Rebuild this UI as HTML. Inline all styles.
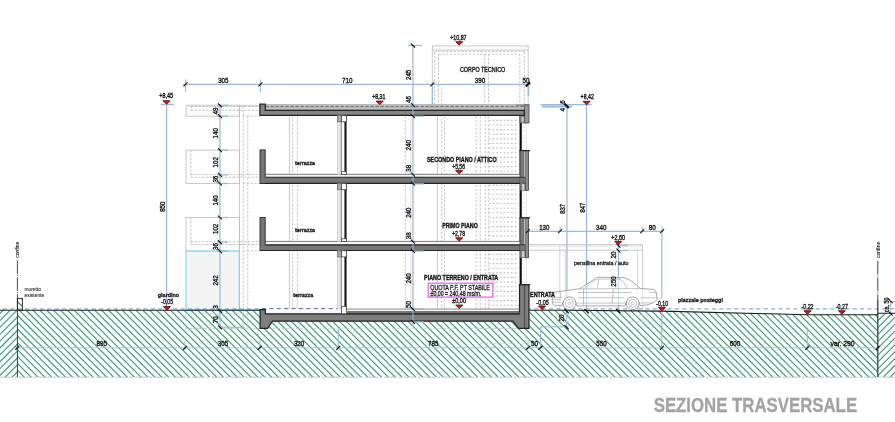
<!DOCTYPE html>
<html><head><meta charset="utf-8"><title>Sezione trasversale</title>
<style>
html,body{margin:0;padding:0;background:#fff;}
body{width:895px;height:422px;overflow:hidden;}
svg{display:block;font-family:"Liberation Sans",sans-serif;will-change:transform;opacity:0.999;}
</style></head><body>
<svg width="895" height="422" viewBox="0 0 895 422">
<defs><filter id="soft" x="0" y="0" width="895" height="422" filterUnits="userSpaceOnUse"><feGaussianBlur stdDeviation="0.38"/></filter></defs>
<rect width="895" height="422" fill="#ffffff"/>
<g filter="url(#soft)">
<clipPath id="cm"><path d="M17.4,310.15 L260,310.15 L260,328.3 L267.6,328.3 L272.5,321.2 L512.8,321.2 L518.5,328.3 L529,328.3 L529,310.15 L566,310.3 L662,311.1 L807,314.6 L877.8,314.6 L877.8,377.0 L17.4,377.0 Z M17.4,298.4 L22.4,298.4 L22.4,310.15 L17.4,310.15 Z"/></clipPath>
<clipPath id="cl"><rect x="0" y="310.15" width="17.4" height="66.85000000000002"/></clipPath>
<clipPath id="cr"><rect x="877.8" y="313.3" width="17.200000000000045" height="63.69999999999999"/></clipPath>
<g clip-path="url(#cm)" stroke="#36986a" stroke-width="1.1">
<line x1="-133.35" y1="295" x2="-48.35" y2="380"/>
<line x1="-126.48" y1="295" x2="-41.48" y2="380"/>
<line x1="-119.62" y1="295" x2="-34.62" y2="380"/>
<line x1="-112.75" y1="295" x2="-27.75" y2="380"/>
<line x1="-105.88" y1="295" x2="-20.88" y2="380"/>
<line x1="-99.01" y1="295" x2="-14.01" y2="380"/>
<line x1="-92.14" y1="295" x2="-7.14" y2="380"/>
<line x1="-85.28" y1="295" x2="-0.28" y2="380"/>
<line x1="-78.41" y1="295" x2="6.59" y2="380"/>
<line x1="-71.54" y1="295" x2="13.46" y2="380"/>
<line x1="-64.67" y1="295" x2="20.33" y2="380"/>
<line x1="-57.81" y1="295" x2="27.19" y2="380"/>
<line x1="-50.94" y1="295" x2="34.06" y2="380"/>
<line x1="-44.07" y1="295" x2="40.93" y2="380"/>
<line x1="-37.20" y1="295" x2="47.80" y2="380"/>
<line x1="-30.34" y1="295" x2="54.66" y2="380"/>
<line x1="-23.47" y1="295" x2="61.53" y2="380"/>
<line x1="-16.60" y1="295" x2="68.40" y2="380"/>
<line x1="-9.73" y1="295" x2="75.27" y2="380"/>
<line x1="-2.87" y1="295" x2="82.13" y2="380"/>
<line x1="4.00" y1="295" x2="89.00" y2="380"/>
<line x1="10.87" y1="295" x2="95.87" y2="380"/>
<line x1="17.74" y1="295" x2="102.74" y2="380"/>
<line x1="24.60" y1="295" x2="109.60" y2="380"/>
<line x1="31.47" y1="295" x2="116.47" y2="380"/>
<line x1="38.34" y1="295" x2="123.34" y2="380"/>
<line x1="45.21" y1="295" x2="130.21" y2="380"/>
<line x1="52.07" y1="295" x2="137.07" y2="380"/>
<line x1="58.94" y1="295" x2="143.94" y2="380"/>
<line x1="65.81" y1="295" x2="150.81" y2="380"/>
<line x1="72.68" y1="295" x2="157.68" y2="380"/>
<line x1="79.54" y1="295" x2="164.54" y2="380"/>
<line x1="86.41" y1="295" x2="171.41" y2="380"/>
<line x1="93.28" y1="295" x2="178.28" y2="380"/>
<line x1="100.15" y1="295" x2="185.15" y2="380"/>
<line x1="107.01" y1="295" x2="192.01" y2="380"/>
<line x1="113.88" y1="295" x2="198.88" y2="380"/>
<line x1="120.75" y1="295" x2="205.75" y2="380"/>
<line x1="127.62" y1="295" x2="212.62" y2="380"/>
<line x1="134.48" y1="295" x2="219.48" y2="380"/>
<line x1="141.35" y1="295" x2="226.35" y2="380"/>
<line x1="148.22" y1="295" x2="233.22" y2="380"/>
<line x1="155.09" y1="295" x2="240.09" y2="380"/>
<line x1="161.95" y1="295" x2="246.95" y2="380"/>
<line x1="168.82" y1="295" x2="253.82" y2="380"/>
<line x1="175.69" y1="295" x2="260.69" y2="380"/>
<line x1="182.56" y1="295" x2="267.56" y2="380"/>
<line x1="189.42" y1="295" x2="274.42" y2="380"/>
<line x1="196.29" y1="295" x2="281.29" y2="380"/>
<line x1="203.16" y1="295" x2="288.16" y2="380"/>
<line x1="210.03" y1="295" x2="295.03" y2="380"/>
<line x1="216.89" y1="295" x2="301.89" y2="380"/>
<line x1="223.76" y1="295" x2="308.76" y2="380"/>
<line x1="230.63" y1="295" x2="315.63" y2="380"/>
<line x1="237.50" y1="295" x2="322.50" y2="380"/>
<line x1="244.36" y1="295" x2="329.36" y2="380"/>
<line x1="251.23" y1="295" x2="336.23" y2="380"/>
<line x1="258.10" y1="295" x2="343.10" y2="380"/>
<line x1="264.97" y1="295" x2="349.97" y2="380"/>
<line x1="271.83" y1="295" x2="356.83" y2="380"/>
<line x1="278.70" y1="295" x2="363.70" y2="380"/>
<line x1="285.57" y1="295" x2="370.57" y2="380"/>
<line x1="292.44" y1="295" x2="377.44" y2="380"/>
<line x1="299.30" y1="295" x2="384.30" y2="380"/>
<line x1="306.17" y1="295" x2="391.17" y2="380"/>
<line x1="313.04" y1="295" x2="398.04" y2="380"/>
<line x1="319.91" y1="295" x2="404.91" y2="380"/>
<line x1="326.77" y1="295" x2="411.77" y2="380"/>
<line x1="333.64" y1="295" x2="418.64" y2="380"/>
<line x1="340.51" y1="295" x2="425.51" y2="380"/>
<line x1="347.38" y1="295" x2="432.38" y2="380"/>
<line x1="354.24" y1="295" x2="439.24" y2="380"/>
<line x1="361.11" y1="295" x2="446.11" y2="380"/>
<line x1="367.98" y1="295" x2="452.98" y2="380"/>
<line x1="374.85" y1="295" x2="459.85" y2="380"/>
<line x1="381.71" y1="295" x2="466.71" y2="380"/>
<line x1="388.58" y1="295" x2="473.58" y2="380"/>
<line x1="395.45" y1="295" x2="480.45" y2="380"/>
<line x1="402.32" y1="295" x2="487.32" y2="380"/>
<line x1="409.18" y1="295" x2="494.18" y2="380"/>
<line x1="416.05" y1="295" x2="501.05" y2="380"/>
<line x1="422.92" y1="295" x2="507.92" y2="380"/>
<line x1="429.79" y1="295" x2="514.79" y2="380"/>
<line x1="436.65" y1="295" x2="521.65" y2="380"/>
<line x1="443.52" y1="295" x2="528.52" y2="380"/>
<line x1="450.39" y1="295" x2="535.39" y2="380"/>
<line x1="457.26" y1="295" x2="542.26" y2="380"/>
<line x1="464.12" y1="295" x2="549.12" y2="380"/>
<line x1="470.99" y1="295" x2="555.99" y2="380"/>
<line x1="477.86" y1="295" x2="562.86" y2="380"/>
<line x1="484.73" y1="295" x2="569.73" y2="380"/>
<line x1="491.59" y1="295" x2="576.59" y2="380"/>
<line x1="498.46" y1="295" x2="583.46" y2="380"/>
<line x1="505.33" y1="295" x2="590.33" y2="380"/>
<line x1="512.20" y1="295" x2="597.20" y2="380"/>
<line x1="519.06" y1="295" x2="604.06" y2="380"/>
<line x1="525.93" y1="295" x2="610.93" y2="380"/>
<line x1="532.80" y1="295" x2="617.80" y2="380"/>
<line x1="539.67" y1="295" x2="624.67" y2="380"/>
<line x1="546.53" y1="295" x2="631.53" y2="380"/>
<line x1="553.40" y1="295" x2="638.40" y2="380"/>
<line x1="560.27" y1="295" x2="645.27" y2="380"/>
<line x1="567.14" y1="295" x2="652.14" y2="380"/>
<line x1="574.00" y1="295" x2="659.00" y2="380"/>
<line x1="580.87" y1="295" x2="665.87" y2="380"/>
<line x1="587.74" y1="295" x2="672.74" y2="380"/>
<line x1="594.61" y1="295" x2="679.61" y2="380"/>
<line x1="601.47" y1="295" x2="686.47" y2="380"/>
<line x1="608.34" y1="295" x2="693.34" y2="380"/>
<line x1="615.21" y1="295" x2="700.21" y2="380"/>
<line x1="622.08" y1="295" x2="707.08" y2="380"/>
<line x1="628.94" y1="295" x2="713.94" y2="380"/>
<line x1="635.81" y1="295" x2="720.81" y2="380"/>
<line x1="642.68" y1="295" x2="727.68" y2="380"/>
<line x1="649.55" y1="295" x2="734.55" y2="380"/>
<line x1="656.41" y1="295" x2="741.41" y2="380"/>
<line x1="663.28" y1="295" x2="748.28" y2="380"/>
<line x1="670.15" y1="295" x2="755.15" y2="380"/>
<line x1="677.02" y1="295" x2="762.02" y2="380"/>
<line x1="683.88" y1="295" x2="768.88" y2="380"/>
<line x1="690.75" y1="295" x2="775.75" y2="380"/>
<line x1="697.62" y1="295" x2="782.62" y2="380"/>
<line x1="704.49" y1="295" x2="789.49" y2="380"/>
<line x1="711.35" y1="295" x2="796.35" y2="380"/>
<line x1="718.22" y1="295" x2="803.22" y2="380"/>
<line x1="725.09" y1="295" x2="810.09" y2="380"/>
<line x1="731.96" y1="295" x2="816.96" y2="380"/>
<line x1="738.82" y1="295" x2="823.82" y2="380"/>
<line x1="745.69" y1="295" x2="830.69" y2="380"/>
<line x1="752.56" y1="295" x2="837.56" y2="380"/>
<line x1="759.43" y1="295" x2="844.43" y2="380"/>
<line x1="766.29" y1="295" x2="851.29" y2="380"/>
<line x1="773.16" y1="295" x2="858.16" y2="380"/>
<line x1="780.03" y1="295" x2="865.03" y2="380"/>
<line x1="786.90" y1="295" x2="871.90" y2="380"/>
<line x1="793.76" y1="295" x2="878.76" y2="380"/>
<line x1="800.63" y1="295" x2="885.63" y2="380"/>
<line x1="807.50" y1="295" x2="892.50" y2="380"/>
<line x1="814.37" y1="295" x2="899.37" y2="380"/>
<line x1="821.23" y1="295" x2="906.23" y2="380"/>
<line x1="828.10" y1="295" x2="913.10" y2="380"/>
<line x1="834.97" y1="295" x2="919.97" y2="380"/>
<line x1="841.84" y1="295" x2="926.84" y2="380"/>
<line x1="848.70" y1="295" x2="933.70" y2="380"/>
<line x1="855.57" y1="295" x2="940.57" y2="380"/>
<line x1="862.44" y1="295" x2="947.44" y2="380"/>
<line x1="869.31" y1="295" x2="954.31" y2="380"/>
<line x1="876.17" y1="295" x2="961.17" y2="380"/>
<line x1="883.04" y1="295" x2="968.04" y2="380"/>
<line x1="889.91" y1="295" x2="974.91" y2="380"/>
<line x1="896.78" y1="295" x2="981.78" y2="380"/>
<line x1="903.64" y1="295" x2="988.64" y2="380"/>
<line x1="910.51" y1="295" x2="995.51" y2="380"/>
<line x1="917.38" y1="295" x2="1002.38" y2="380"/>
<line x1="924.24" y1="295" x2="1009.24" y2="380"/>
<line x1="931.11" y1="295" x2="1016.11" y2="380"/>
<line x1="937.98" y1="295" x2="1022.98" y2="380"/>
<line x1="944.85" y1="295" x2="1029.85" y2="380"/>
<line x1="951.71" y1="295" x2="1036.71" y2="380"/>
<line x1="958.58" y1="295" x2="1043.58" y2="380"/>
<line x1="965.45" y1="295" x2="1050.45" y2="380"/>
<line x1="972.32" y1="295" x2="1057.32" y2="380"/>
<line x1="979.18" y1="295" x2="1064.18" y2="380"/>
<line x1="986.05" y1="295" x2="1071.05" y2="380"/>
<line x1="992.92" y1="295" x2="1077.92" y2="380"/>
<line x1="999.79" y1="295" x2="1084.79" y2="380"/>
<line x1="1006.65" y1="295" x2="1091.65" y2="380"/>
<line x1="1013.52" y1="295" x2="1098.52" y2="380"/>
<line x1="1020.39" y1="295" x2="1105.39" y2="380"/>
<line x1="1027.26" y1="295" x2="1112.26" y2="380"/>
<line x1="1034.12" y1="295" x2="1119.12" y2="380"/>
<line x1="1040.99" y1="295" x2="1125.99" y2="380"/>
<line x1="1047.86" y1="295" x2="1132.86" y2="380"/>
<line x1="1054.73" y1="295" x2="1139.73" y2="380"/>
<line x1="1061.59" y1="295" x2="1146.59" y2="380"/>
<line x1="1068.46" y1="295" x2="1153.46" y2="380"/>
<line x1="1075.33" y1="295" x2="1160.33" y2="380"/>
<line x1="1082.20" y1="295" x2="1167.20" y2="380"/>
<line x1="1089.06" y1="295" x2="1174.06" y2="380"/>
<line x1="1095.93" y1="295" x2="1180.93" y2="380"/>
<line x1="1102.80" y1="295" x2="1187.80" y2="380"/>
<line x1="1109.67" y1="295" x2="1194.67" y2="380"/>
<line x1="1116.53" y1="295" x2="1201.53" y2="380"/>
<line x1="1123.40" y1="295" x2="1208.40" y2="380"/>
<line x1="1130.27" y1="295" x2="1215.27" y2="380"/>
<line x1="1137.14" y1="295" x2="1222.14" y2="380"/>
<line x1="1144.00" y1="295" x2="1229.00" y2="380"/>
<line x1="1150.87" y1="295" x2="1235.87" y2="380"/>
<line x1="1157.74" y1="295" x2="1242.74" y2="380"/>
<line x1="1164.61" y1="295" x2="1249.61" y2="380"/>
<line x1="1171.47" y1="295" x2="1256.47" y2="380"/>
<line x1="1178.34" y1="295" x2="1263.34" y2="380"/>
<line x1="1185.21" y1="295" x2="1270.21" y2="380"/>
<line x1="1192.08" y1="295" x2="1277.08" y2="380"/>
</g>
<g clip-path="url(#cl)" stroke="#36986a" stroke-width="1.1">
<line x1="-20.78" y1="300" x2="-100.78" y2="380"/>
<line x1="-13.91" y1="300" x2="-93.91" y2="380"/>
<line x1="-7.04" y1="300" x2="-87.04" y2="380"/>
<line x1="-0.17" y1="300" x2="-80.17" y2="380"/>
<line x1="6.69" y1="300" x2="-73.31" y2="380"/>
<line x1="13.56" y1="300" x2="-66.44" y2="380"/>
<line x1="20.43" y1="300" x2="-59.57" y2="380"/>
<line x1="27.30" y1="300" x2="-52.70" y2="380"/>
<line x1="34.17" y1="300" x2="-45.83" y2="380"/>
<line x1="41.03" y1="300" x2="-38.97" y2="380"/>
<line x1="47.90" y1="300" x2="-32.10" y2="380"/>
<line x1="54.77" y1="300" x2="-25.23" y2="380"/>
<line x1="61.64" y1="300" x2="-18.36" y2="380"/>
<line x1="68.50" y1="300" x2="-11.50" y2="380"/>
<line x1="75.37" y1="300" x2="-4.63" y2="380"/>
<line x1="82.24" y1="300" x2="2.24" y2="380"/>
<line x1="89.11" y1="300" x2="9.11" y2="380"/>
<line x1="95.97" y1="300" x2="15.97" y2="380"/>
<line x1="102.84" y1="300" x2="22.84" y2="380"/>
<line x1="109.71" y1="300" x2="29.71" y2="380"/>
<line x1="116.58" y1="300" x2="36.58" y2="380"/>
</g>
<g clip-path="url(#cr)" stroke="#36986a" stroke-width="1.1">
<line x1="871.12" y1="300" x2="791.12" y2="380"/>
<line x1="877.99" y1="300" x2="797.99" y2="380"/>
<line x1="884.86" y1="300" x2="804.86" y2="380"/>
<line x1="891.73" y1="300" x2="811.73" y2="380"/>
<line x1="898.60" y1="300" x2="818.60" y2="380"/>
<line x1="905.46" y1="300" x2="825.46" y2="380"/>
<line x1="912.33" y1="300" x2="832.33" y2="380"/>
<line x1="919.20" y1="300" x2="839.20" y2="380"/>
<line x1="926.07" y1="300" x2="846.07" y2="380"/>
<line x1="932.93" y1="300" x2="852.93" y2="380"/>
<line x1="939.80" y1="300" x2="859.80" y2="380"/>
<line x1="946.67" y1="300" x2="866.67" y2="380"/>
<line x1="953.54" y1="300" x2="873.54" y2="380"/>
<line x1="960.40" y1="300" x2="880.40" y2="380"/>
<line x1="967.27" y1="300" x2="887.27" y2="380"/>
<line x1="974.14" y1="300" x2="894.14" y2="380"/>
</g>
<line x1="0" y1="377.2" x2="895" y2="377.2" stroke="#b9b9b9" stroke-width="0.9" stroke-dasharray="13 1.6 3 1.6" />
<rect x="186" y="105.3" width="53.40" height="10.90" fill="#fafafa" stroke="#bcbcbc" stroke-width="0.8"/>
<line x1="186" y1="105.6" x2="260" y2="105.6" stroke="#d5d5d5" stroke-width="1.6" />
<rect x="186" y="150.1" width="53.40" height="33.30" fill="none" stroke="#bcbcbc" stroke-width="0.8"/>
<rect x="186" y="217.5" width="53.40" height="33.60" fill="none" stroke="#bcbcbc" stroke-width="0.8"/>
<line x1="190.8" y1="150.1" x2="190.8" y2="177.2" stroke="#bcbcbc" stroke-width="0.85" stroke-dasharray="2.3 1.5" />
<line x1="190.8" y1="174.6" x2="260" y2="174.6" stroke="#bcbcbc" stroke-width="0.85" stroke-dasharray="2.3 1.5" />
<line x1="190.8" y1="177.2" x2="260" y2="177.2" stroke="#bcbcbc" stroke-width="0.85" stroke-dasharray="2.3 1.5" />
<line x1="243" y1="183.6" x2="260" y2="183.6" stroke="#bcbcbc" stroke-width="0.85" stroke-dasharray="2.3 1.5" />
<line x1="190.8" y1="217.5" x2="190.8" y2="244.5" stroke="#bcbcbc" stroke-width="0.85" stroke-dasharray="2.3 1.5" />
<line x1="190.8" y1="241.7" x2="260" y2="241.7" stroke="#bcbcbc" stroke-width="0.85" stroke-dasharray="2.3 1.5" />
<line x1="190.8" y1="244.5" x2="260" y2="244.5" stroke="#bcbcbc" stroke-width="0.85" stroke-dasharray="2.3 1.5" />
<line x1="243" y1="250.9" x2="260" y2="250.9" stroke="#bcbcbc" stroke-width="0.85" stroke-dasharray="2.3 1.5" />
<line x1="191" y1="106.5" x2="260" y2="106.5" stroke="#bcbcbc" stroke-width="0.85" stroke-dasharray="2.3 1.5" />
<line x1="191" y1="110.3" x2="260" y2="110.3" stroke="#bcbcbc" stroke-width="0.85" stroke-dasharray="2.3 1.5" />
<line x1="243" y1="116.1" x2="260" y2="116.1" stroke="#bcbcbc" stroke-width="0.85" stroke-dasharray="2.3 1.5" />
<line x1="191" y1="106" x2="191" y2="110.6" stroke="#bcbcbc" stroke-width="0.85" stroke-dasharray="2.3 1.5" />
<line x1="239.4" y1="105" x2="239.4" y2="310" stroke="#bcbcbc" stroke-width="0.8" />
<line x1="243.2" y1="106" x2="243.2" y2="328" stroke="#bcbcbc" stroke-width="0.85" stroke-dasharray="2.3 1.5" />
<line x1="247.8" y1="116" x2="247.8" y2="328" stroke="#bcbcbc" stroke-width="0.85" stroke-dasharray="2.3 1.5" />
<line x1="289.4" y1="116.5" x2="289.4" y2="309" stroke="#bcbcbc" stroke-width="0.8" />
<line x1="292.6" y1="116.5" x2="292.6" y2="309" stroke="#bcbcbc" stroke-width="0.85" stroke-dasharray="2.3 1.5" />
<line x1="297.6" y1="116.5" x2="297.6" y2="309" stroke="#bcbcbc" stroke-width="0.85" stroke-dasharray="2.3 1.5" />
<line x1="405.3" y1="116.5" x2="405.3" y2="309" stroke="#bcbcbc" stroke-width="0.85" stroke-dasharray="2.3 1.5" />
<line x1="410.8" y1="116.5" x2="410.8" y2="309" stroke="#dcdcdc" stroke-width="0.8" />
<line x1="437.4" y1="116.5" x2="437.4" y2="309" stroke="#bcbcbc" stroke-width="0.8" />
<line x1="441.8" y1="84" x2="441.8" y2="309" stroke="#bcbcbc" stroke-width="0.85" stroke-dasharray="2.3 1.5" />
<line x1="444.6" y1="116.5" x2="444.6" y2="309" stroke="#bcbcbc" stroke-width="0.85" stroke-dasharray="2.3 1.5" />
<line x1="476.2" y1="116.5" x2="476.2" y2="309" stroke="#bcbcbc" stroke-width="0.85" stroke-dasharray="2.3 1.5" />
<line x1="480.3" y1="116.5" x2="480.3" y2="309" stroke="#bcbcbc" stroke-width="0.85" stroke-dasharray="2.3 1.5" />
<rect x="432.3" y="45.9" width="95.90" height="4.20" fill="#fbfbfb" stroke="#bcbcbc" stroke-width="0.8"/>
<line x1="432.3" y1="50" x2="432.3" y2="105" stroke="#bcbcbc" stroke-width="0.8" />
<line x1="528.2" y1="50" x2="528.2" y2="105" stroke="#bcbcbc" stroke-width="0.8" />
<line x1="434.7" y1="51.6" x2="524.4" y2="51.6" stroke="#bcbcbc" stroke-width="0.85" stroke-dasharray="2.3 1.5" />
<line x1="438.5" y1="54.3" x2="519.8" y2="54.3" stroke="#bcbcbc" stroke-width="0.85" stroke-dasharray="2.3 1.5" />
<line x1="434.7" y1="52" x2="434.7" y2="105" stroke="#bcbcbc" stroke-width="0.85" stroke-dasharray="2.3 1.5" />
<line x1="438.5" y1="54.3" x2="438.5" y2="105" stroke="#bcbcbc" stroke-width="0.85" stroke-dasharray="2.3 1.5" />
<line x1="484.6" y1="54.3" x2="484.6" y2="105" stroke="#bcbcbc" stroke-width="0.85" stroke-dasharray="2.3 1.5" />
<line x1="488.5" y1="54.3" x2="488.5" y2="105" stroke="#bcbcbc" stroke-width="0.85" stroke-dasharray="2.3 1.5" />
<line x1="519.8" y1="54.3" x2="519.8" y2="105" stroke="#bcbcbc" stroke-width="0.85" stroke-dasharray="2.3 1.5" />
<line x1="524.4" y1="52" x2="524.4" y2="105" stroke="#bcbcbc" stroke-width="0.85" stroke-dasharray="2.3 1.5" />
<line x1="488.8" y1="120.4" x2="518.5" y2="120.4" stroke="#c2c2c2" stroke-width="1.1" stroke-dasharray="1.8 1.9" />
<line x1="488.8" y1="125.02000000000001" x2="518.5" y2="125.02000000000001" stroke="#c2c2c2" stroke-width="1.1" stroke-dasharray="1.8 1.9" />
<line x1="488.8" y1="129.64000000000001" x2="518.5" y2="129.64000000000001" stroke="#c2c2c2" stroke-width="1.1" stroke-dasharray="1.8 1.9" />
<line x1="488.8" y1="134.26000000000002" x2="518.5" y2="134.26000000000002" stroke="#c2c2c2" stroke-width="1.1" stroke-dasharray="1.8 1.9" />
<line x1="488.8" y1="138.88000000000002" x2="518.5" y2="138.88000000000002" stroke="#c2c2c2" stroke-width="1.1" stroke-dasharray="1.8 1.9" />
<line x1="488.8" y1="143.50000000000003" x2="518.5" y2="143.50000000000003" stroke="#c2c2c2" stroke-width="1.1" stroke-dasharray="1.8 1.9" />
<line x1="488.8" y1="148.12000000000003" x2="518.5" y2="148.12000000000003" stroke="#c2c2c2" stroke-width="1.1" stroke-dasharray="1.8 1.9" />
<line x1="488.8" y1="152.74000000000004" x2="518.5" y2="152.74000000000004" stroke="#c2c2c2" stroke-width="1.1" stroke-dasharray="1.8 1.9" />
<line x1="488.8" y1="157.36000000000004" x2="518.5" y2="157.36000000000004" stroke="#c2c2c2" stroke-width="1.1" stroke-dasharray="1.8 1.9" />
<line x1="488.8" y1="161.98000000000005" x2="518.5" y2="161.98000000000005" stroke="#c2c2c2" stroke-width="1.1" stroke-dasharray="1.8 1.9" />
<line x1="488.8" y1="166.60000000000005" x2="518.5" y2="166.60000000000005" stroke="#c2c2c2" stroke-width="1.1" stroke-dasharray="1.8 1.9" />
<line x1="488.8" y1="171.22000000000006" x2="518.5" y2="171.22000000000006" stroke="#c2c2c2" stroke-width="1.1" stroke-dasharray="1.8 1.9" />
<line x1="488.8" y1="185.08000000000007" x2="518.5" y2="185.08000000000007" stroke="#c2c2c2" stroke-width="1.1" stroke-dasharray="1.8 1.9" />
<line x1="488.8" y1="189.70000000000007" x2="518.5" y2="189.70000000000007" stroke="#c2c2c2" stroke-width="1.1" stroke-dasharray="1.8 1.9" />
<line x1="488.8" y1="194.32000000000008" x2="518.5" y2="194.32000000000008" stroke="#c2c2c2" stroke-width="1.1" stroke-dasharray="1.8 1.9" />
<line x1="488.8" y1="198.94000000000008" x2="518.5" y2="198.94000000000008" stroke="#c2c2c2" stroke-width="1.1" stroke-dasharray="1.8 1.9" />
<line x1="488.8" y1="203.5600000000001" x2="518.5" y2="203.5600000000001" stroke="#c2c2c2" stroke-width="1.1" stroke-dasharray="1.8 1.9" />
<line x1="488.8" y1="208.1800000000001" x2="518.5" y2="208.1800000000001" stroke="#c2c2c2" stroke-width="1.1" stroke-dasharray="1.8 1.9" />
<line x1="488.8" y1="212.8000000000001" x2="518.5" y2="212.8000000000001" stroke="#c2c2c2" stroke-width="1.1" stroke-dasharray="1.8 1.9" />
<line x1="488.8" y1="217.4200000000001" x2="518.5" y2="217.4200000000001" stroke="#c2c2c2" stroke-width="1.1" stroke-dasharray="1.8 1.9" />
<line x1="488.8" y1="222.0400000000001" x2="518.5" y2="222.0400000000001" stroke="#c2c2c2" stroke-width="1.1" stroke-dasharray="1.8 1.9" />
<line x1="488.8" y1="226.6600000000001" x2="518.5" y2="226.6600000000001" stroke="#c2c2c2" stroke-width="1.1" stroke-dasharray="1.8 1.9" />
<line x1="488.8" y1="231.28000000000011" x2="518.5" y2="231.28000000000011" stroke="#c2c2c2" stroke-width="1.1" stroke-dasharray="1.8 1.9" />
<line x1="488.8" y1="235.90000000000012" x2="518.5" y2="235.90000000000012" stroke="#c2c2c2" stroke-width="1.1" stroke-dasharray="1.8 1.9" />
<line x1="488.8" y1="254.38000000000014" x2="518.5" y2="254.38000000000014" stroke="#c2c2c2" stroke-width="1.1" stroke-dasharray="1.8 1.9" />
<line x1="488.8" y1="259.0000000000001" x2="518.5" y2="259.0000000000001" stroke="#c2c2c2" stroke-width="1.1" stroke-dasharray="1.8 1.9" />
<line x1="488.8" y1="263.6200000000001" x2="518.5" y2="263.6200000000001" stroke="#c2c2c2" stroke-width="1.1" stroke-dasharray="1.8 1.9" />
<line x1="488.8" y1="268.2400000000001" x2="518.5" y2="268.2400000000001" stroke="#c2c2c2" stroke-width="1.1" stroke-dasharray="1.8 1.9" />
<line x1="488.8" y1="272.8600000000001" x2="518.5" y2="272.8600000000001" stroke="#c2c2c2" stroke-width="1.1" stroke-dasharray="1.8 1.9" />
<line x1="488.8" y1="277.48000000000013" x2="518.5" y2="277.48000000000013" stroke="#c2c2c2" stroke-width="1.1" stroke-dasharray="1.8 1.9" />
<line x1="488.8" y1="282.10000000000014" x2="518.5" y2="282.10000000000014" stroke="#c2c2c2" stroke-width="1.1" stroke-dasharray="1.8 1.9" />
<line x1="488.8" y1="286.72000000000014" x2="518.5" y2="286.72000000000014" stroke="#c2c2c2" stroke-width="1.1" stroke-dasharray="1.8 1.9" />
<line x1="488.8" y1="291.34000000000015" x2="518.5" y2="291.34000000000015" stroke="#c2c2c2" stroke-width="1.1" stroke-dasharray="1.8 1.9" />
<line x1="488.8" y1="295.96000000000015" x2="518.5" y2="295.96000000000015" stroke="#c2c2c2" stroke-width="1.1" stroke-dasharray="1.8 1.9" />
<line x1="488.8" y1="300.58000000000015" x2="518.5" y2="300.58000000000015" stroke="#c2c2c2" stroke-width="1.1" stroke-dasharray="1.8 1.9" />
<line x1="488.8" y1="305.20000000000016" x2="518.5" y2="305.20000000000016" stroke="#c2c2c2" stroke-width="1.1" stroke-dasharray="1.8 1.9" />
<line x1="488.3" y1="116.5" x2="488.3" y2="309" stroke="#bcbcbc" stroke-width="0.85" stroke-dasharray="2.3 1.5" />
<line x1="485.2" y1="116.5" x2="485.2" y2="309" stroke="#bcbcbc" stroke-width="0.85" stroke-dasharray="2.3 1.5" />
<line x1="523.5" y1="122" x2="523.5" y2="310" stroke="#d8d8d8" stroke-width="0.7" stroke-dasharray="2.3 1.5" />
<line x1="526.3" y1="122" x2="526.3" y2="310" stroke="#d8d8d8" stroke-width="0.7" />
<rect x="186" y="251.1" width="53.20" height="58.70" fill="#f4f4f4" stroke="#5fd3e3" stroke-width="0.9"/>
<line x1="186" y1="309.8" x2="262" y2="309.8" stroke="#5fd3e3" stroke-width="0.9" />
<rect x="529" y="244.2" width="113.60" height="3.00" fill="#ececec" stroke="none" stroke-width="1"/>
<line x1="529" y1="244.6" x2="642.6" y2="244.6" stroke="#c8c8c8" stroke-width="0.9" />
<line x1="529" y1="250.2" x2="642.6" y2="250.2" stroke="#c6c6c6" stroke-width="0.9" />
<line x1="642.6" y1="244.6" x2="642.6" y2="310.5" stroke="#c6c6c6" stroke-width="0.9" />
<line x1="637.7" y1="250.2" x2="637.7" y2="310.5" stroke="#cccccc" stroke-width="0.8" />
<line x1="559.8" y1="246.5" x2="559.8" y2="310" stroke="#cccccc" stroke-width="0.8" />
<line x1="565.2" y1="250.2" x2="565.2" y2="310" stroke="#cccccc" stroke-width="0.8" />
<line x1="185" y1="328.3" x2="260" y2="328.3" stroke="#c0c0c0" stroke-width="0.8" stroke-dasharray="3 1.6" />
<rect x="185.8" y="313.6" width="57.20" height="14.70" fill="none" stroke="#c4c4c4" stroke-width="0.8" stroke-dasharray="2.4 1.6"/>
<rect x="476.8" y="328.5" width="48.60" height="15.10" fill="none" stroke="#c9c9c9" stroke-width="0.7" stroke-dasharray="3 1.6"/>
<rect x="556.6" y="314.7" width="12.40" height="7.50" fill="none" stroke="#c9c9c9" stroke-width="0.7" stroke-dasharray="2 1.3"/>
<rect x="632" y="315.6" width="15.80" height="5.80" fill="none" stroke="#c9c9c9" stroke-width="0.7" stroke-dasharray="2 1.3"/>
<line x1="268" y1="328.4" x2="519" y2="328.4" stroke="#c6c6c6" stroke-width="0.7" stroke-dasharray="3 1.6" />
<line x1="183" y1="84.4" x2="531" y2="84.4" stroke="#97bae0" stroke-width="1.25" />
<line x1="185.5" y1="79.5" x2="185.5" y2="92" stroke="#97bae0" stroke-width="1.125" />
<line x1="260.4" y1="79.5" x2="260.4" y2="92" stroke="#97bae0" stroke-width="1.125" />
<line x1="432.3" y1="84.4" x2="432.3" y2="105" stroke="#97bae0" stroke-width="1.125" />
<line x1="528.4" y1="84" x2="528.4" y2="96" stroke="#97bae0" stroke-width="1.625" />
<line x1="412.95" y1="45.4" x2="412.95" y2="327" stroke="#97bae0" stroke-width="1.25" />
<line x1="408" y1="45.4" x2="422" y2="45.4" stroke="#97bae0" stroke-width="1.125" />
<line x1="412.95" y1="105.1" x2="424" y2="105.1" stroke="#97bae0" stroke-width="1.25" />
<line x1="412.95" y1="116.1" x2="424" y2="116.1" stroke="#97bae0" stroke-width="1.25" />
<line x1="412.95" y1="174.6" x2="424" y2="174.6" stroke="#97bae0" stroke-width="1.25" />
<line x1="412.95" y1="183.7" x2="424" y2="183.7" stroke="#97bae0" stroke-width="1.25" />
<line x1="412.95" y1="241.7" x2="424" y2="241.7" stroke="#97bae0" stroke-width="1.25" />
<line x1="412.95" y1="250.9" x2="424" y2="250.9" stroke="#97bae0" stroke-width="1.25" />
<line x1="412.95" y1="309.2" x2="424" y2="309.2" stroke="#97bae0" stroke-width="1.25" />
<line x1="412.95" y1="321.8" x2="424" y2="321.8" stroke="#97bae0" stroke-width="1.25" />
<line x1="219.95" y1="105" x2="219.95" y2="327.3" stroke="#97bae0" stroke-width="1.25" />
<line x1="217" y1="105.3" x2="228" y2="105.3" stroke="#97bae0" stroke-width="1.25" />
<line x1="217" y1="116.2" x2="228" y2="116.2" stroke="#97bae0" stroke-width="1.25" />
<line x1="217" y1="150.1" x2="228" y2="150.1" stroke="#97bae0" stroke-width="1.25" />
<line x1="217" y1="174.9" x2="228" y2="174.9" stroke="#97bae0" stroke-width="1.25" />
<line x1="217" y1="183.5" x2="228" y2="183.5" stroke="#97bae0" stroke-width="1.25" />
<line x1="217" y1="217.5" x2="228" y2="217.5" stroke="#97bae0" stroke-width="1.25" />
<line x1="217" y1="242.2" x2="228" y2="242.2" stroke="#97bae0" stroke-width="1.25" />
<line x1="217" y1="251.1" x2="228" y2="251.1" stroke="#97bae0" stroke-width="1.25" />
<line x1="219.95" y1="327.3" x2="245" y2="327.3" stroke="#97bae0" stroke-width="1.125" />
<line x1="166.6" y1="104.6" x2="166.6" y2="310.2" stroke="#97bae0" stroke-width="1.25" />
<line x1="161" y1="104.6" x2="174" y2="104.6" stroke="#97bae0" stroke-width="1.125" />
<line x1="566.95" y1="105.5" x2="566.95" y2="310.5" stroke="#97bae0" stroke-width="1.25" />
<line x1="586.55" y1="105.2" x2="586.55" y2="310.8" stroke="#97bae0" stroke-width="1.25" />
<line x1="540.4" y1="104.6" x2="591.6" y2="104.6" stroke="#97bae0" stroke-width="1.125" />
<line x1="542" y1="106.5" x2="571.8" y2="106.5" stroke="#94b8de" stroke-width="2.0" />
<line x1="527.5" y1="231.3" x2="663" y2="231.3" stroke="#97bae0" stroke-width="1.25" />
<line x1="527.8" y1="226.5" x2="527.8" y2="232" stroke="#97bae0" stroke-width="1.0" />
<line x1="560.1" y1="226.5" x2="560.1" y2="232" stroke="#97bae0" stroke-width="1.0" />
<line x1="642.3" y1="226.5" x2="642.3" y2="232" stroke="#97bae0" stroke-width="1.0" />
<line x1="662.1" y1="226.5" x2="662.1" y2="232" stroke="#97bae0" stroke-width="1.0" />
<line x1="661.9" y1="231" x2="661.9" y2="299.2" stroke="#97bae0" stroke-width="1.125" />
<line x1="661.8" y1="311.5" x2="661.8" y2="348" stroke="#97bae0" stroke-width="1.125" />
<line x1="618.4" y1="245.3" x2="618.4" y2="311.5" stroke="#97bae0" stroke-width="1.25" />
<line x1="618.4" y1="245.6" x2="628" y2="245.6" stroke="#97bae0" stroke-width="1.125" />
<line x1="618.4" y1="250.6" x2="628" y2="250.6" stroke="#97bae0" stroke-width="1.125" />
<line x1="566.5" y1="310.5" x2="566.5" y2="327.2" stroke="#97bae0" stroke-width="1.125" />
<line x1="540.5" y1="326.8" x2="569" y2="326.8" stroke="#97bae0" stroke-width="1.125" />
<line x1="540.5" y1="326.8" x2="540.5" y2="348" stroke="#97bae0" stroke-width="1.125" />
<line x1="338.3" y1="328.5" x2="338.3" y2="348" stroke="#97bae0" stroke-width="1.125" />
<line x1="807.3" y1="327.5" x2="807.3" y2="348" stroke="#97bae0" stroke-width="1.125" />
<line x1="890.6" y1="301.4" x2="890.6" y2="313.0" stroke="#97bae0" stroke-width="1.125" />
<line x1="890.6" y1="301.6" x2="895" y2="301.6" stroke="#97bae0" stroke-width="1.125" />
<line x1="185.1" y1="340.5" x2="185.1" y2="349.5" stroke="#97bae0" stroke-width="1.0" />
<line x1="259.8" y1="340.5" x2="259.8" y2="349.5" stroke="#97bae0" stroke-width="1.0" />
<line x1="528.1" y1="340.5" x2="528.1" y2="349.5" stroke="#97bae0" stroke-width="1.0" />
<line x1="15" y1="347.8" x2="880" y2="347.8" stroke="#a6c3e2" stroke-width="0.95" />
<line x1="-4.62" y1="308.85" x2="262" y2="308.85" stroke="#8ab0dc" stroke-width="1.15" stroke-dasharray="4.2 3.202" />
<line x1="526.85" y1="308.85" x2="895" y2="308.85" stroke="#8ab0dc" stroke-width="1.15" stroke-dasharray="4.2 3.202" />
<rect x="265.4" y="104.2" width="263.80" height="6.00" fill="#c4c4c4" stroke="none" stroke-width="1"/>
<rect x="265.4" y="106.9" width="259.00" height="3.30" fill="#bababa" stroke="none" stroke-width="1"/>
<line x1="265.4" y1="104.5" x2="529.2" y2="104.5" stroke="#b2b2b2" stroke-width="0.7" />
<line x1="265.4" y1="106.35" x2="524" y2="106.35" stroke="#484848" stroke-width="0.75" stroke-dasharray="3.4 1.6" />
<rect x="524.6" y="104.9" width="4.40" height="18.10" fill="#979797" stroke="#444" stroke-width="0.75"/>
<line x1="516" y1="105.1" x2="529.4" y2="105.1" stroke="#777" stroke-width="0.9" />
<path d="M259.9,104.2 L265.3,104.2 L265.3,110.3 L524.3,110.3 L524.3,115.4 L259.9,115.4 Z" fill="#858585" stroke="#202020" stroke-width="1.2"/>
<line x1="520.7" y1="122.7" x2="520.7" y2="310" stroke="#0c0c0c" stroke-width="2.2" />
<rect x="265.2" y="174.3" width="254.80" height="2.95" fill="#f4f4f4" stroke="none" stroke-width="1"/>
<line x1="265.2" y1="174.3" x2="520" y2="174.3" stroke="#6e6e6e" stroke-width="0.9" />
<rect x="265.2" y="177.25" width="254.80" height="6.05" fill="#767676" stroke="none" stroke-width="1"/>
<line x1="265.2" y1="177.25" x2="520" y2="177.25" stroke="#202020" stroke-width="1.15" />
<line x1="265.2" y1="183.3" x2="520" y2="183.3" stroke="#202020" stroke-width="1.15" />
<rect x="265.2" y="241.4" width="254.80" height="3.40" fill="#f4f4f4" stroke="none" stroke-width="1"/>
<line x1="265.2" y1="241.4" x2="520" y2="241.4" stroke="#6e6e6e" stroke-width="0.9" />
<rect x="265.2" y="244.8" width="254.80" height="5.70" fill="#767676" stroke="none" stroke-width="1"/>
<line x1="265.2" y1="244.8" x2="520" y2="244.8" stroke="#202020" stroke-width="1.15" />
<line x1="265.2" y1="250.5" x2="520" y2="250.5" stroke="#202020" stroke-width="1.15" />
<rect x="260" y="149.9" width="5.20" height="33.40" fill="#767676" stroke="#2c2c2c" stroke-width="0.9"/>
<line x1="260" y1="183.3" x2="266" y2="183.3" stroke="#2c2c2c" stroke-width="0.9" />
<rect x="260" y="217.5" width="5.20" height="33.00" fill="#767676" stroke="#2c2c2c" stroke-width="0.9"/>
<line x1="260" y1="250.5" x2="266" y2="250.5" stroke="#2c2c2c" stroke-width="0.9" />
<rect x="260.5" y="177.8" width="5.50" height="5.00" fill="#767676" stroke="none" stroke-width="1"/>
<rect x="260.5" y="245.4" width="5.50" height="4.60" fill="#767676" stroke="none" stroke-width="1"/>
<rect x="520.0" y="150.6" width="4.20" height="32.70" fill="#7a7a7a" stroke="#333" stroke-width="0.7"/>
<rect x="525.3" y="150.6" width="3.30" height="39.80" fill="#8c8c8c" stroke="#333" stroke-width="0.7"/>
<line x1="524.75" y1="151.4" x2="524.75" y2="177.25" stroke="#e2e2e2" stroke-width="0.9" />
<rect x="520.2" y="177.65" width="5.00" height="5.25" fill="#757575" stroke="none" stroke-width="1"/>
<line x1="520" y1="177.25" x2="525.2" y2="177.25" stroke="#2c2c2c" stroke-width="0.9" />
<line x1="520" y1="183.3" x2="525.2" y2="183.3" stroke="#2c2c2c" stroke-width="0.9" />
<line x1="519.4" y1="150.6" x2="530.0" y2="150.6" stroke="#222" stroke-width="1.2" />
<rect x="520.3" y="183.3" width="4.60" height="6.90" fill="#d0d0d0" stroke="#444" stroke-width="0.6"/>
<rect x="520.3" y="183.3" width="1.70" height="6.90" fill="#777" stroke="none" stroke-width="1"/>
<rect x="520.0" y="217.8" width="4.20" height="32.70" fill="#7a7a7a" stroke="#333" stroke-width="0.7"/>
<rect x="525.3" y="217.8" width="3.30" height="40.00" fill="#8c8c8c" stroke="#333" stroke-width="0.7"/>
<line x1="524.75" y1="218.60000000000002" x2="524.75" y2="244.8" stroke="#e2e2e2" stroke-width="0.9" />
<rect x="520.2" y="245.20000000000002" width="5.00" height="4.90" fill="#757575" stroke="none" stroke-width="1"/>
<line x1="520" y1="244.8" x2="525.2" y2="244.8" stroke="#2c2c2c" stroke-width="0.9" />
<line x1="520" y1="250.5" x2="525.2" y2="250.5" stroke="#2c2c2c" stroke-width="0.9" />
<line x1="519.4" y1="217.8" x2="530.0" y2="217.8" stroke="#222" stroke-width="1.2" />
<rect x="520.3" y="250.5" width="4.60" height="7.10" fill="#d0d0d0" stroke="#444" stroke-width="0.6"/>
<rect x="520.3" y="250.5" width="1.70" height="7.10" fill="#777" stroke="none" stroke-width="1"/>
<rect x="519.7" y="116.2" width="4.60" height="6.60" fill="#c4c4c4" stroke="#444" stroke-width="0.7"/>
<rect x="519.7" y="116.2" width="1.90" height="6.60" fill="#777" stroke="none" stroke-width="1"/>
<rect x="265.4" y="309.3" width="254.10" height="4.50" fill="#fbfbfb" stroke="none" stroke-width="1"/>
<path d="M260.1,309.7 L265.4,309.7 L265.4,313.8 L519.5,313.8 L519.5,284.7 L529,284.7 L529,328.3 L518.5,328.3 L512.8,321.2 L272.5,321.2 L267.6,328.3 L260.1,328.3 Z" fill="#7e7e7e" stroke="#202020" stroke-width="1.2"/>
<rect x="346.6" y="311.8" width="172.90" height="2.00" fill="#8c8c8c" stroke="none" stroke-width="1"/>
<line x1="346.6" y1="309.1" x2="519.5" y2="309.1" stroke="#7a7a7a" stroke-width="0.9" />
<line x1="346.6" y1="311.8" x2="519.5" y2="311.8" stroke="#333" stroke-width="0.9" />
<line x1="346.6" y1="313.8" x2="519.5" y2="313.8" stroke="#202020" stroke-width="1.1" />
<line x1="519" y1="284.7" x2="530.3" y2="284.7" stroke="#2c2c2c" stroke-width="1.0" />
<line x1="524.6" y1="285" x2="524.6" y2="328" stroke="#2c2c2c" stroke-width="0.7" />
<line x1="261.9" y1="308.6" x2="341" y2="308.6" stroke="#2f5f9e" stroke-width="0.9" stroke-dasharray="4.2 3.202" />
<rect x="337.4" y="115.4" width="3.60" height="58.90" fill="#f0f0f0" stroke="none" stroke-width="1"/>
<line x1="337.5" y1="115.4" x2="337.5" y2="174.3" stroke="#c8c8c8" stroke-width="0.8" />
<line x1="339.3" y1="115.4" x2="339.3" y2="174.3" stroke="#d6d6d6" stroke-width="0.7" />
<line x1="341.3" y1="115.4" x2="341.3" y2="174.3" stroke="#555" stroke-width="0.9" />
<rect x="341.8" y="115.4" width="2.60" height="58.90" fill="#ffffff" stroke="none" stroke-width="1"/>
<line x1="345.5" y1="115.4" x2="345.5" y2="174.3" stroke="#1c1c1c" stroke-width="2.2" />
<rect x="337.6" y="115.7" width="3.70" height="6.10" fill="#a8a8a8" stroke="#555" stroke-width="0.6"/>
<rect x="341.5" y="115.7" width="5.00" height="6.10" fill="#fcfcfc" stroke="#333" stroke-width="0.7"/>
<rect x="341.5" y="171.70000000000002" width="5.00" height="2.60" fill="#fcfcfc" stroke="#333" stroke-width="0.7"/>
<rect x="337.4" y="183.3" width="3.60" height="58.10" fill="#f0f0f0" stroke="none" stroke-width="1"/>
<line x1="337.5" y1="183.3" x2="337.5" y2="241.4" stroke="#c8c8c8" stroke-width="0.8" />
<line x1="339.3" y1="183.3" x2="339.3" y2="241.4" stroke="#d6d6d6" stroke-width="0.7" />
<line x1="341.3" y1="183.3" x2="341.3" y2="241.4" stroke="#555" stroke-width="0.9" />
<rect x="341.8" y="183.3" width="2.60" height="58.10" fill="#ffffff" stroke="none" stroke-width="1"/>
<line x1="345.5" y1="183.3" x2="345.5" y2="241.4" stroke="#1c1c1c" stroke-width="2.2" />
<rect x="337.6" y="183.60000000000002" width="3.70" height="6.10" fill="#a8a8a8" stroke="#555" stroke-width="0.6"/>
<rect x="341.5" y="183.60000000000002" width="5.00" height="6.10" fill="#fcfcfc" stroke="#333" stroke-width="0.7"/>
<rect x="341.5" y="238.8" width="5.00" height="2.60" fill="#fcfcfc" stroke="#333" stroke-width="0.7"/>
<rect x="337.4" y="250.5" width="3.60" height="58.80" fill="#f0f0f0" stroke="none" stroke-width="1"/>
<line x1="337.5" y1="250.5" x2="337.5" y2="309.3" stroke="#c8c8c8" stroke-width="0.8" />
<line x1="339.3" y1="250.5" x2="339.3" y2="309.3" stroke="#d6d6d6" stroke-width="0.7" />
<line x1="341.3" y1="250.5" x2="341.3" y2="309.3" stroke="#555" stroke-width="0.9" />
<rect x="341.8" y="250.5" width="2.60" height="58.80" fill="#ffffff" stroke="none" stroke-width="1"/>
<line x1="345.5" y1="250.5" x2="345.5" y2="309.3" stroke="#1c1c1c" stroke-width="2.2" />
<rect x="337.6" y="250.8" width="3.70" height="6.10" fill="#a8a8a8" stroke="#555" stroke-width="0.6"/>
<rect x="341.5" y="250.8" width="5.00" height="6.10" fill="#fcfcfc" stroke="#333" stroke-width="0.7"/>
<rect x="341.5" y="306.7" width="5.00" height="7.10" fill="#fcfcfc" stroke="#333" stroke-width="0.7"/>
<line x1="412.95" y1="104.2" x2="412.95" y2="116" stroke="#a9c6e4" stroke-width="1.2" opacity="0.75"/>
<line x1="412.95" y1="176.8" x2="412.95" y2="183.8" stroke="#a9c6e4" stroke-width="1.2" opacity="0.75"/>
<line x1="412.95" y1="244.2" x2="412.95" y2="251" stroke="#a9c6e4" stroke-width="1.2" opacity="0.75"/>
<line x1="412.95" y1="309" x2="412.95" y2="321.8" stroke="#a9c6e4" stroke-width="1.2" opacity="0.75"/>
<line x1="413.5" y1="105.1" x2="424" y2="105.1" stroke="#a9c6e4" stroke-width="1.1" opacity="0.85"/>
<line x1="413.5" y1="116.1" x2="424" y2="116.1" stroke="#a9c6e4" stroke-width="1.1" opacity="0.85"/>
<line x1="413.5" y1="183.7" x2="424" y2="183.7" stroke="#a9c6e4" stroke-width="1.1" opacity="0.85"/>
<line x1="413.5" y1="250.9" x2="424" y2="250.9" stroke="#a9c6e4" stroke-width="1.1" opacity="0.85"/>
<line x1="413.5" y1="321.8" x2="424" y2="321.8" stroke="#a9c6e4" stroke-width="1.1" opacity="0.85"/>
<path d="M0,310.15 L260,310.15" stroke="#1a1a1a" stroke-width="1.05" fill="none"/>
<path d="M529,310.15 L566,310.3 L662,311.1 L807,314.7 L877.8,314.7 M877.8,313.3 L895,313.3" stroke="#1a1a1a" stroke-width="1.05" fill="none"/>
<line x1="17.4" y1="260.5" x2="17.4" y2="300" stroke="#333" stroke-width="0.9" stroke-dasharray="13.5 1.2 1 1.2" />
<line x1="877.8" y1="260.9" x2="877.8" y2="300" stroke="#333" stroke-width="0.9" stroke-dasharray="13.5 1.2 1 1.2" />
<line x1="17.4" y1="300" x2="17.4" y2="377.0" stroke="#303030" stroke-width="0.95" />
<line x1="877.8" y1="300" x2="877.8" y2="377.0" stroke="#383838" stroke-width="1.25" />
<rect x="17.4" y="298.4" width="5.00" height="11.80" fill="none" stroke="#222" stroke-width="0.9"/>
<path d="M552.3,299.3 L552.4,303.9 L554.4,305.3 L562.0,305.7 A7.4,7.4 0 0 1 576.8,305.9 L625.3,305.9 A7.4,7.4 0 0 1 640.1,305.7 L648,304.7 L654,302.4 L656.9,299.5 L656.6,295 L655.9,291.2 L653.1,289.3 L640.2,288.5 L636.6,285.2 L630.4,280.4 L625.6,278.2 L621.5,277.5 L598,277.3 L596.3,277.8 L580.2,288.6 L553.7,292.4 Z" fill="#ffffff" fill-opacity="0.55" stroke="#8c8c8c" stroke-width="0.75" stroke-linejoin="round"/>
<g fill="none" stroke="#9c9c9c" stroke-width="0.6">
<path d="M580.2,288.9 L640,288.6 M619,279.1 C623,281 626,285 627.2,288.4 M583.8,288.6 L596.6,279.1 L598.6,279.1 L597.3,288.6 M583.5,288.9 L583.5,305.2 M613.3,288.9 L612.2,303.4 M577.5,292.5 L631,292.5 M578,297.7 L624.5,297.7 M577.4,303.1 L625.3,303.1 M552.6,297.6 L562.4,297.6 M552.4,299.6 L561.2,299.6 M553,302.2 L561.6,302.2 M640.8,297.7 L656.8,297.7 M649.5,292.6 L656.1,292.6 M641,303 L652,302.8 M560.2,291.5 L560.6,297.4 M598.6,279.1 L621,279.1"/>
</g>
<circle cx="569.4" cy="303.3" r="6.4" fill="#fff" stroke="#8a8a8a" stroke-width="0.8"/>
<circle cx="569.4" cy="303.3" r="4.0" fill="none" stroke="#999" stroke-width="0.6"/>
<circle cx="569.4" cy="303.3" r="1.4" fill="none" stroke="#999" stroke-width="0.5"/>
<circle cx="632.7" cy="303.3" r="6.4" fill="#fff" stroke="#8a8a8a" stroke-width="0.8"/>
<circle cx="632.7" cy="303.3" r="4.0" fill="none" stroke="#999" stroke-width="0.6"/>
<circle cx="632.7" cy="303.3" r="1.4" fill="none" stroke="#999" stroke-width="0.5"/>
<line x1="183.55" y1="86.35000000000001" x2="187.45" y2="82.45" stroke="#111" stroke-width="1.1" />
<line x1="258.45" y1="86.35000000000001" x2="262.34999999999997" y2="82.45" stroke="#111" stroke-width="1.1" />
<line x1="430.35" y1="86.35000000000001" x2="434.25" y2="82.45" stroke="#111" stroke-width="1.1" />
<line x1="525.8" y1="86.5" x2="530.0" y2="82.30000000000001" stroke="#111" stroke-width="2.0" />
<line x1="410.84999999999997" y1="43.3" x2="415.05" y2="47.5" stroke="#111" stroke-width="1.1" />
<line x1="411.0" y1="103.14999999999999" x2="414.9" y2="107.05" stroke="#111" stroke-width="1.1" />
<line x1="411.0" y1="114.14999999999999" x2="414.9" y2="118.05" stroke="#111" stroke-width="1.1" />
<line x1="411.0" y1="172.65" x2="414.9" y2="176.54999999999998" stroke="#111" stroke-width="1.1" />
<line x1="411.0" y1="181.75" x2="414.9" y2="185.64999999999998" stroke="#111" stroke-width="1.1" />
<line x1="411.0" y1="239.75" x2="414.9" y2="243.64999999999998" stroke="#111" stroke-width="1.1" />
<line x1="411.0" y1="248.95000000000002" x2="414.9" y2="252.85" stroke="#111" stroke-width="1.1" />
<line x1="411.0" y1="307.25" x2="414.9" y2="311.15" stroke="#111" stroke-width="1.1" />
<line x1="411.0" y1="319.85" x2="414.9" y2="323.75" stroke="#111" stroke-width="1.1" />
<line x1="218.0" y1="103.35" x2="221.89999999999998" y2="107.25" stroke="#111" stroke-width="1.1" />
<line x1="218.0" y1="114.25" x2="221.89999999999998" y2="118.15" stroke="#111" stroke-width="1.1" />
<line x1="218.0" y1="148.15" x2="221.89999999999998" y2="152.04999999999998" stroke="#111" stroke-width="1.1" />
<line x1="218.0" y1="172.95000000000002" x2="221.89999999999998" y2="176.85" stroke="#111" stroke-width="1.1" />
<line x1="218.0" y1="181.55" x2="221.89999999999998" y2="185.45" stroke="#111" stroke-width="1.1" />
<line x1="218.0" y1="215.55" x2="221.89999999999998" y2="219.45" stroke="#111" stroke-width="1.1" />
<line x1="218.0" y1="240.25" x2="221.89999999999998" y2="244.14999999999998" stroke="#111" stroke-width="1.1" />
<line x1="218.0" y1="249.15" x2="221.89999999999998" y2="253.04999999999998" stroke="#111" stroke-width="1.1" />
<line x1="218.0" y1="308.85" x2="221.89999999999998" y2="312.75" stroke="#111" stroke-width="1.1" />
<line x1="218.0" y1="325.35" x2="221.89999999999998" y2="329.25" stroke="#111" stroke-width="1.1" />
<line x1="564.25" y1="103.45" x2="568.75" y2="107.95" stroke="#111" stroke-width="2.3" />
<line x1="525.8499999999999" y1="233.04999999999998" x2="529.75" y2="229.15" stroke="#111" stroke-width="1.1" />
<line x1="558.15" y1="233.04999999999998" x2="562.0500000000001" y2="229.15" stroke="#111" stroke-width="1.1" />
<line x1="640.3499999999999" y1="233.04999999999998" x2="644.25" y2="229.15" stroke="#111" stroke-width="1.1" />
<line x1="660.15" y1="233.04999999999998" x2="664.0500000000001" y2="229.15" stroke="#111" stroke-width="1.1" />
<line x1="616.4499999999999" y1="243.65" x2="620.35" y2="247.54999999999998" stroke="#111" stroke-width="1.1" />
<line x1="616.4499999999999" y1="248.65" x2="620.35" y2="252.54999999999998" stroke="#111" stroke-width="1.1" />
<line x1="564.5" y1="309.09999999999997" x2="568.7" y2="313.3" stroke="#111" stroke-width="1.4" />
<line x1="584.5" y1="309.09999999999997" x2="588.7" y2="313.3" stroke="#111" stroke-width="1.4" />
<line x1="616.1" y1="309.09999999999997" x2="620.3000000000001" y2="313.3" stroke="#111" stroke-width="1.4" />
<line x1="564.4" y1="325.09999999999997" x2="568.6" y2="329.3" stroke="#111" stroke-width="1.3" />
<line x1="15.45" y1="349.75" x2="19.349999999999998" y2="345.85" stroke="#111" stroke-width="1.2" />
<line x1="183.15" y1="349.75" x2="187.04999999999998" y2="345.85" stroke="#111" stroke-width="1.2" />
<line x1="257.85" y1="349.75" x2="261.75" y2="345.85" stroke="#111" stroke-width="1.2" />
<line x1="336.35" y1="349.75" x2="340.25" y2="345.85" stroke="#111" stroke-width="1.2" />
<line x1="526.15" y1="349.75" x2="530.0500000000001" y2="345.85" stroke="#111" stroke-width="1.2" />
<line x1="538.55" y1="349.75" x2="542.45" y2="345.85" stroke="#111" stroke-width="1.2" />
<line x1="659.8499999999999" y1="349.75" x2="663.75" y2="345.85" stroke="#111" stroke-width="1.2" />
<line x1="805.3499999999999" y1="349.75" x2="809.25" y2="345.85" stroke="#111" stroke-width="1.2" />
<line x1="875.8499999999999" y1="349.75" x2="879.75" y2="345.85" stroke="#111" stroke-width="1.2" />
<line x1="888.575" y1="299.175" x2="892.625" y2="303.22499999999997" stroke="#111" stroke-width="1.1" />
<line x1="888.925" y1="311.925" x2="892.675" y2="315.675" stroke="#111" stroke-width="1.1" />
<text x="218.20" y="82.73" font-size="6.8" fill="#0c0c0c" stroke="#0c0c0c" stroke-width="0.32" textLength="10.20" lengthAdjust="spacingAndGlyphs">305</text>
<text x="342.00" y="82.73" font-size="6.8" fill="#0c0c0c" stroke="#0c0c0c" stroke-width="0.32" textLength="10.40" lengthAdjust="spacingAndGlyphs">710</text>
<text x="474.80" y="82.73" font-size="6.8" fill="#0c0c0c" stroke="#0c0c0c" stroke-width="0.32" textLength="10.40" lengthAdjust="spacingAndGlyphs">390</text>
<text x="522.60" y="82.73" font-size="6.8" fill="#0c0c0c" stroke="#0c0c0c" stroke-width="0.32" textLength="7.00" lengthAdjust="spacingAndGlyphs">50</text>
<text x="460.00" y="71.76" font-size="6.6" fill="#0c0c0c" stroke="#0c0c0c" stroke-width="0.32" textLength="45.20" lengthAdjust="spacingAndGlyphs">CORPO TECNICO</text>
<text transform="translate(411.13,80.00) rotate(-90)" font-size="6.8" fill="#0c0c0c" stroke="#0c0c0c" stroke-width="0.32" textLength="10.20" lengthAdjust="spacingAndGlyphs">245</text>
<text transform="translate(411.13,103.00) rotate(-90)" font-size="6.8" fill="#0c0c0c" stroke="#0c0c0c" stroke-width="0.32" textLength="7.00" lengthAdjust="spacingAndGlyphs">46</text>
<text transform="translate(411.13,150.40) rotate(-90)" font-size="6.8" fill="#0c0c0c" stroke="#0c0c0c" stroke-width="0.32" textLength="10.20" lengthAdjust="spacingAndGlyphs">240</text>
<text transform="translate(411.13,171.70) rotate(-90)" font-size="6.8" fill="#0c0c0c" stroke="#0c0c0c" stroke-width="0.32" textLength="7.00" lengthAdjust="spacingAndGlyphs">38</text>
<text transform="translate(411.13,217.80) rotate(-90)" font-size="6.8" fill="#0c0c0c" stroke="#0c0c0c" stroke-width="0.32" textLength="10.20" lengthAdjust="spacingAndGlyphs">240</text>
<text transform="translate(411.13,239.20) rotate(-90)" font-size="6.8" fill="#0c0c0c" stroke="#0c0c0c" stroke-width="0.32" textLength="7.00" lengthAdjust="spacingAndGlyphs">38</text>
<text transform="translate(411.13,283.60) rotate(-90)" font-size="6.8" fill="#0c0c0c" stroke="#0c0c0c" stroke-width="0.32" textLength="10.20" lengthAdjust="spacingAndGlyphs">240</text>
<text transform="translate(411.13,308.10) rotate(-90)" font-size="6.8" fill="#0c0c0c" stroke="#0c0c0c" stroke-width="0.32" textLength="7.00" lengthAdjust="spacingAndGlyphs">50</text>
<text transform="translate(218.03,114.40) rotate(-90)" font-size="6.8" fill="#0c0c0c" stroke="#0c0c0c" stroke-width="0.32" textLength="7.00" lengthAdjust="spacingAndGlyphs">49</text>
<text transform="translate(218.03,138.40) rotate(-90)" font-size="6.8" fill="#0c0c0c" stroke="#0c0c0c" stroke-width="0.32" textLength="10.20" lengthAdjust="spacingAndGlyphs">140</text>
<text transform="translate(218.03,167.40) rotate(-90)" font-size="6.8" fill="#0c0c0c" stroke="#0c0c0c" stroke-width="0.32" textLength="10.20" lengthAdjust="spacingAndGlyphs">102</text>
<text transform="translate(218.03,182.60) rotate(-90)" font-size="6.8" fill="#0c0c0c" stroke="#0c0c0c" stroke-width="0.32" textLength="6.80" lengthAdjust="spacingAndGlyphs">36</text>
<text transform="translate(218.03,205.60) rotate(-90)" font-size="6.8" fill="#0c0c0c" stroke="#0c0c0c" stroke-width="0.32" textLength="10.20" lengthAdjust="spacingAndGlyphs">140</text>
<text transform="translate(218.03,234.00) rotate(-90)" font-size="6.8" fill="#0c0c0c" stroke="#0c0c0c" stroke-width="0.32" textLength="10.20" lengthAdjust="spacingAndGlyphs">102</text>
<text transform="translate(218.03,250.00) rotate(-90)" font-size="6.8" fill="#0c0c0c" stroke="#0c0c0c" stroke-width="0.32" textLength="6.80" lengthAdjust="spacingAndGlyphs">36</text>
<text transform="translate(218.03,285.60) rotate(-90)" font-size="6.8" fill="#0c0c0c" stroke="#0c0c0c" stroke-width="0.32" textLength="10.40" lengthAdjust="spacingAndGlyphs">242</text>
<text transform="translate(218.03,308.80) rotate(-90)" font-size="6.8" fill="#0c0c0c" stroke="#0c0c0c" stroke-width="0.32" textLength="3.60" lengthAdjust="spacingAndGlyphs">3</text>
<text transform="translate(218.03,323.20) rotate(-90)" font-size="6.8" fill="#0c0c0c" stroke="#0c0c0c" stroke-width="0.32" textLength="6.80" lengthAdjust="spacingAndGlyphs">70</text>
<text transform="translate(164.83,211.80) rotate(-90)" font-size="6.8" fill="#0c0c0c" stroke="#0c0c0c" stroke-width="0.32" textLength="10.20" lengthAdjust="spacingAndGlyphs">850</text>
<text transform="translate(565.23,213.80) rotate(-90)" font-size="6.8" fill="#0c0c0c" stroke="#0c0c0c" stroke-width="0.32" textLength="9.80" lengthAdjust="spacingAndGlyphs">837</text>
<text transform="translate(584.73,212.50) rotate(-90)" font-size="6.8" fill="#0c0c0c" stroke="#0c0c0c" stroke-width="0.32" textLength="9.80" lengthAdjust="spacingAndGlyphs">847</text>
<text transform="translate(564.63,111.40) rotate(-90)" font-size="6.8" fill="#0c0c0c" stroke="#0c0c0c" stroke-width="0.32" textLength="3.50" lengthAdjust="spacingAndGlyphs">4</text>
<text transform="translate(564.63,103.80) rotate(-90)" font-size="6.8" fill="#0c0c0c" stroke="#0c0c0c" stroke-width="0.32" textLength="3.50" lengthAdjust="spacingAndGlyphs">6</text>
<text transform="translate(616.23,286.80) rotate(-90)" font-size="6.8" fill="#0c0c0c" stroke="#0c0c0c" stroke-width="0.32" textLength="10.40" lengthAdjust="spacingAndGlyphs">250</text>
<text transform="translate(616.43,258.40) rotate(-90)" font-size="6.8" fill="#0c0c0c" stroke="#0c0c0c" stroke-width="0.32" textLength="7.00" lengthAdjust="spacingAndGlyphs">20</text>
<text transform="translate(564.03,321.40) rotate(-90)" font-size="6.8" fill="#0c0c0c" stroke="#0c0c0c" stroke-width="0.32" textLength="6.80" lengthAdjust="spacingAndGlyphs">20</text>
<text transform="translate(889.13,312.30) rotate(-90)" font-size="6.8" fill="#0c0c0c" stroke="#0c0c0c" stroke-width="0.32" textLength="14.80" lengthAdjust="spacingAndGlyphs">ca. 50</text>
<text transform="translate(19.23,257.80) rotate(-90)" font-size="5.4" fill="#0c0c0c" stroke="#0c0c0c" stroke-width="0.08" textLength="16.10" lengthAdjust="spacingAndGlyphs">confine</text>
<text transform="translate(879.73,258.10) rotate(-90)" font-size="5.4" fill="#0c0c0c" stroke="#0c0c0c" stroke-width="0.08" textLength="16.40" lengthAdjust="spacingAndGlyphs">confine</text>
<text x="539.20" y="229.93" font-size="6.8" fill="#0c0c0c" stroke="#0c0c0c" stroke-width="0.32" textLength="10.20" lengthAdjust="spacingAndGlyphs">130</text>
<text x="596.00" y="229.93" font-size="6.8" fill="#0c0c0c" stroke="#0c0c0c" stroke-width="0.32" textLength="10.40" lengthAdjust="spacingAndGlyphs">340</text>
<text x="648.80" y="229.93" font-size="6.8" fill="#0c0c0c" stroke="#0c0c0c" stroke-width="0.32" textLength="7.00" lengthAdjust="spacingAndGlyphs">80</text>
<text x="96.60" y="346.03" font-size="6.8" fill="#0c0c0c" stroke="#0c0c0c" stroke-width="0.32" textLength="10.40" lengthAdjust="spacingAndGlyphs">895</text>
<text x="217.80" y="346.03" font-size="6.8" fill="#0c0c0c" stroke="#0c0c0c" stroke-width="0.32" textLength="10.40" lengthAdjust="spacingAndGlyphs">305</text>
<text x="293.90" y="346.03" font-size="6.8" fill="#0c0c0c" stroke="#0c0c0c" stroke-width="0.32" textLength="10.40" lengthAdjust="spacingAndGlyphs">320</text>
<text x="428.00" y="346.03" font-size="6.8" fill="#0c0c0c" stroke="#0c0c0c" stroke-width="0.32" textLength="10.40" lengthAdjust="spacingAndGlyphs">785</text>
<text x="531.00" y="346.03" font-size="6.8" fill="#0c0c0c" stroke="#0c0c0c" stroke-width="0.32" textLength="7.00" lengthAdjust="spacingAndGlyphs">50</text>
<text x="596.30" y="346.03" font-size="6.8" fill="#0c0c0c" stroke="#0c0c0c" stroke-width="0.32" textLength="10.40" lengthAdjust="spacingAndGlyphs">550</text>
<text x="729.80" y="346.03" font-size="6.8" fill="#0c0c0c" stroke="#0c0c0c" stroke-width="0.32" textLength="10.40" lengthAdjust="spacingAndGlyphs">600</text>
<text x="830.60" y="345.73" font-size="6.8" fill="#0c0c0c" stroke="#0c0c0c" stroke-width="0.32" textLength="24.00" lengthAdjust="spacingAndGlyphs">var. 290</text>
<text x="294.90" y="164.80" font-size="5.6" font-weight="bold" fill="#222" stroke="#222" stroke-width="0.32" textLength="20.20" lengthAdjust="spacingAndGlyphs">terrazza</text>
<text x="294.90" y="231.90" font-size="5.6" font-weight="bold" fill="#222" stroke="#222" stroke-width="0.32" textLength="20.20" lengthAdjust="spacingAndGlyphs">terrazza</text>
<text x="293.20" y="296.90" font-size="5.6" font-weight="bold" fill="#222" stroke="#222" stroke-width="0.32" textLength="20.00" lengthAdjust="spacingAndGlyphs">terrazza</text>
<text x="427.00" y="161.53" font-size="6.8" font-weight="bold" fill="#111" stroke="#111" stroke-width="0.32" textLength="69.70" lengthAdjust="spacingAndGlyphs">SECONDO PIANO / ATTICO</text>
<text x="442.20" y="227.93" font-size="6.8" font-weight="bold" fill="#111" stroke="#111" stroke-width="0.32" textLength="35.60" lengthAdjust="spacingAndGlyphs">PRIMO PIANO</text>
<text x="424.10" y="280.43" font-size="6.8" font-weight="bold" fill="#111" stroke="#111" stroke-width="0.32" textLength="74.10" lengthAdjust="spacingAndGlyphs">PIANO TERRENO / ENTRATA</text>
<text x="530.10" y="296.83" font-size="6.8" font-weight="bold" fill="#111" stroke="#111" stroke-width="0.32" textLength="24.80" lengthAdjust="spacingAndGlyphs">ENTRATA</text>
<text x="574.00" y="265.45" font-size="6.0" fill="#222" stroke="#222" stroke-width="0.32" textLength="54.40" lengthAdjust="spacingAndGlyphs">pensilina entrata / auto</text>
<text x="678.00" y="301.75" font-size="6.0" font-weight="bold" fill="#222" stroke="#222" stroke-width="0.32" textLength="44.90" lengthAdjust="spacingAndGlyphs">piazzale posteggi</text>
<text x="157.80" y="296.98" font-size="5.8" font-weight="bold" fill="#222" stroke="#222" stroke-width="0.32" textLength="21.40" lengthAdjust="spacingAndGlyphs">giardino</text>
<text x="24.60" y="290.83" font-size="5.4" fill="#222" stroke="#222" stroke-width="0.08" textLength="16.20" lengthAdjust="spacingAndGlyphs">muretto</text>
<text x="24.60" y="296.63" font-size="5.4" fill="#222" stroke="#222" stroke-width="0.08" textLength="19.60" lengthAdjust="spacingAndGlyphs">esistente</text>
<rect x="428.2" y="283.2" width="64.60" height="13.90" fill="#fff" stroke="#ee62ea" stroke-width="1.25"/>
<text x="430.30" y="289.63" font-size="6.5" fill="#1c1c1c" stroke="#1c1c1c" stroke-width="0.3" textLength="59.60" lengthAdjust="spacingAndGlyphs">QUOTA P.F. PT STABILE</text>
<text x="430.50" y="295.93" font-size="6.5" fill="#1c1c1c" stroke="#1c1c1c" stroke-width="0.3" textLength="50.80" lengthAdjust="spacingAndGlyphs">±0,00 = 240,48 ms/m.</text>
<polygon points="162.95,100.70 170.05,100.70 166.50,104.25" fill="#f01010" stroke="#2a0505" stroke-width="0.75" stroke-linejoin="miter"/>
<text x="159.25" y="98.16" font-size="6.6" fill="#0c0c0c" stroke="#0c0c0c" stroke-width="0.32" textLength="13.90" lengthAdjust="spacingAndGlyphs">+8,45</text>
<polygon points="376.15,101.10 383.25,101.10 379.70,104.65" fill="#f01010" stroke="#2a0505" stroke-width="0.75" stroke-linejoin="miter"/>
<text x="372.25" y="98.81" font-size="6.6" fill="#0c0c0c" stroke="#0c0c0c" stroke-width="0.32" textLength="13.10" lengthAdjust="spacingAndGlyphs">+8,31</text>
<polygon points="455.65,41.70 462.75,41.70 459.20,45.25" fill="#f01010" stroke="#2a0505" stroke-width="0.75" stroke-linejoin="miter"/>
<text x="450.25" y="39.76" font-size="6.6" fill="#0c0c0c" stroke="#0c0c0c" stroke-width="0.32" textLength="16.30" lengthAdjust="spacingAndGlyphs">+10,87</text>
<polygon points="583.05,101.30 590.15,101.30 586.60,104.85" fill="#f01010" stroke="#2a0505" stroke-width="0.75" stroke-linejoin="miter"/>
<text x="580.60" y="98.76" font-size="6.6" fill="#0c0c0c" stroke="#0c0c0c" stroke-width="0.32" textLength="13.20" lengthAdjust="spacingAndGlyphs">+8,42</text>
<polygon points="455.65,170.40 462.75,170.40 459.20,173.95" fill="#f01010" stroke="#2a0505" stroke-width="0.75" stroke-linejoin="miter"/>
<text x="452.20" y="168.66" font-size="6.6" fill="#0c0c0c" stroke="#0c0c0c" stroke-width="0.32" textLength="12.80" lengthAdjust="spacingAndGlyphs">+5,56</text>
<polygon points="455.65,237.80 462.75,237.80 459.20,241.35" fill="#f01010" stroke="#2a0505" stroke-width="0.75" stroke-linejoin="miter"/>
<text x="452.15" y="235.81" font-size="6.6" fill="#0c0c0c" stroke="#0c0c0c" stroke-width="0.32" textLength="12.90" lengthAdjust="spacingAndGlyphs">+2,78</text>
<polygon points="455.65,305.00 462.75,305.00 459.20,308.55" fill="#f01010" stroke="#2a0505" stroke-width="0.75" stroke-linejoin="miter"/>
<text x="452.25" y="303.11" font-size="6.6" fill="#0c0c0c" stroke="#0c0c0c" stroke-width="0.32" textLength="13.70" lengthAdjust="spacingAndGlyphs">±0,00</text>
<polygon points="538.55,306.10 545.65,306.10 542.10,309.65" fill="#f01010" stroke="#2a0505" stroke-width="0.75" stroke-linejoin="miter"/>
<text x="536.35" y="304.66" font-size="6.6" fill="#0c0c0c" stroke="#0c0c0c" stroke-width="0.32" textLength="12.30" lengthAdjust="spacingAndGlyphs">-0,05</text>
<polygon points="614.75,241.40 621.85,241.40 618.30,244.95" fill="#f01010" stroke="#2a0505" stroke-width="0.75" stroke-linejoin="miter"/>
<text x="611.25" y="240.26" font-size="6.6" fill="#0c0c0c" stroke="#0c0c0c" stroke-width="0.32" textLength="13.70" lengthAdjust="spacingAndGlyphs">+2,60</text>
<polygon points="658.30,307.40 665.40,307.40 661.85,310.95" fill="#f01010" stroke="#2a0505" stroke-width="0.75" stroke-linejoin="miter"/>
<text x="656.15" y="305.56" font-size="6.6" fill="#0c0c0c" stroke="#0c0c0c" stroke-width="0.32" textLength="12.00" lengthAdjust="spacingAndGlyphs">-0,10</text>
<polygon points="803.95,310.70 811.05,310.70 807.50,314.25" fill="#f01010" stroke="#2a0505" stroke-width="0.75" stroke-linejoin="miter"/>
<text x="801.40" y="308.56" font-size="6.6" fill="#0c0c0c" stroke="#0c0c0c" stroke-width="0.32" textLength="12.20" lengthAdjust="spacingAndGlyphs">-0,22</text>
<polygon points="838.35,310.70 845.45,310.70 841.90,314.25" fill="#f01010" stroke="#2a0505" stroke-width="0.75" stroke-linejoin="miter"/>
<text x="835.80" y="309.06" font-size="6.6" fill="#0c0c0c" stroke="#0c0c0c" stroke-width="0.32" textLength="12.20" lengthAdjust="spacingAndGlyphs">-0,27</text>
<polygon points="163.35,306.60 170.45,306.60 166.90,310.15" fill="#f01010" stroke="#2a0505" stroke-width="0.75" stroke-linejoin="miter"/>
<text x="161.30" y="304.26" font-size="6.6" fill="#0c0c0c" stroke="#0c0c0c" stroke-width="0.32" textLength="11.80" lengthAdjust="spacingAndGlyphs">-0,05</text>
<text x="653.70" y="411.61" font-size="19.3" font-weight="bold" fill="#a3a3a3" stroke="#a3a3a3" stroke-width="0.32" textLength="203.40" lengthAdjust="spacingAndGlyphs">SEZIONE TRASVERSALE</text>
</g>
</svg>
</body></html>
